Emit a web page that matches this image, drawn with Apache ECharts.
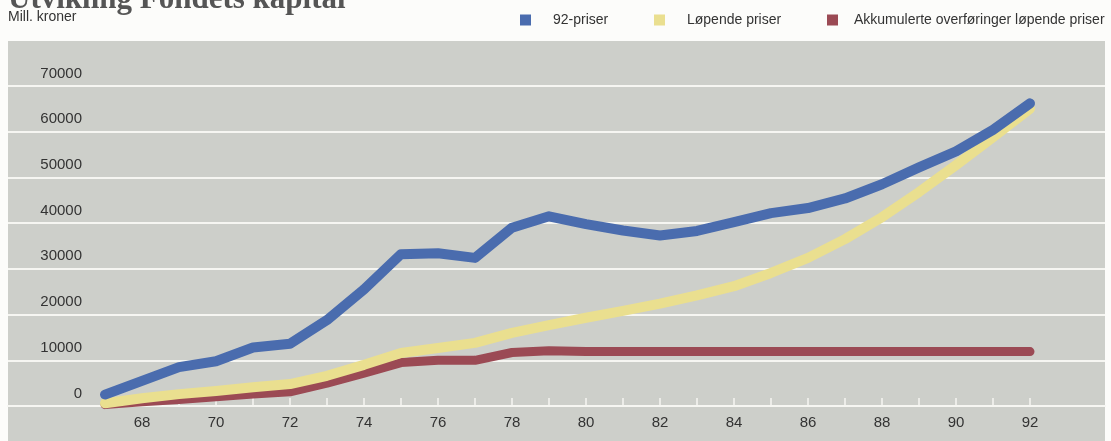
<!DOCTYPE html>
<html>
<head>
<meta charset="utf-8">
<script src="https://cdn.jsdelivr.net/npm/echarts@6/dist/echarts.min.js"></script>
<style>
  html, body { margin: 0; padding: 0; background: #fcfcfa; }
  #chart { width: 1111px; height: 441px; }
</style>
</head>
<body>
<div id="chart"></div>
<script>
// Fondets kapital 1967–1992, mill. kroner
const years = [67, 68, 69, 70, 71, 72, 73, 74, 75, 76, 77, 78, 79, 80, 81, 82, 83, 84, 85, 86, 87, 88, 89, 90, 91, 92];
const priser92 = [2500, 5500, 8500, 9800, 12800, 13600, 18800, 25500, 33200, 33400, 32400, 39000, 41500, 39800, 38400, 37300, 38300, 40200, 42200, 43300, 45400, 48500, 52200, 55700, 60400, 66200];
const lopendePriser = [600, 1700, 2600, 3300, 4100, 4800, 6600, 9000, 11600, 12700, 13800, 16000, 17700, 19300, 20800, 22400, 24200, 26200, 29100, 32400, 36500, 41300, 46800, 52700, 58800, 65000];
const overforinger = [300, 900, 1400, 2000, 2600, 3100, 5000, 7200, 9500, 10000, 10000, 11700, 12100, 11900, 11900, 11900, 11900, 11900, 11900, 11900, 11900, 11900, 11900, 11900, 11900, 11900];
const xLabelYears = [68, 70, 72, 74, 76, 78, 80, 82, 84, 86, 88, 90, 92];
const yMax = 70000;
const yStep = 10000;

const seriesNames = ['92-priser', 'Løpende priser', 'Akkumulerte overføringer løpende priser'];
const colors = { blue: '#4a6cae', yellow: '#eadf8f', red: '#9b4a54' };

const pairs = (vals) => years.map((y, i) => [y, vals[i]]);
const font = '"Liberation Sans", Arial, sans-serif';

const chart = echarts.init(document.getElementById('chart'), null, { renderer: 'canvas' });

function legendFor(name, left, textGap) {
  return {
    left: left,
    top: 13,
    padding: 0,
    data: [name],
    icon: 'rect',
    itemWidth: 11,
    itemHeight: 11,
    selectedMode: false,
    textStyle: { fontFamily: font, fontSize: 14, color: '#333', padding: [0, 0, 0, textGap] }
  };
}

chart.setOption({
  animation: false,
  backgroundColor: '#fcfcfa',
  graphic: [
    { type: 'rect', z: -100, shape: { x: 8, y: 41, width: 1097, height: 400 }, style: { fill: '#cdcfca' } },
    { type: 'text', left: 8, top: -16, style: { text: 'Utvikling Fondets kapital', font: 'bold 31px "Liberation Serif", "Times New Roman", serif', fill: '#555' } },
    { type: 'text', left: 8, top: 10, style: { text: 'Mill. kroner', font: '14px ' + font, fill: '#333' } }
  ],
  legend: [
    legendFor(seriesNames[0], 520, 17),
    legendFor(seriesNames[1], 654, 17),
    legendFor(seriesNames[2], 827, 11)
  ],
  grid: { left: 8, right: 6, top: 86, bottom: 35, containLabel: false },
  xAxis: {
    type: 'value',
    min: 64.378,
    max: 94.027,
    splitLine: { show: false },
    axisLine: { show: true, onZero: false, lineStyle: { color: '#f6f6f2', width: 2 } },
    axisTick: { show: true, inside: true, length: 8, customValues: years, lineStyle: { color: '#f6f6f2', width: 1.5 } },
    axisLabel: { customValues: xLabelYears, margin: 9, fontFamily: font, fontSize: 15, color: '#333' }
  },
  yAxis: {
    type: 'value',
    min: 0,
    max: yMax,
    interval: yStep,
    axisLine: { show: false },
    axisTick: { show: false },
    splitLine: { show: true, lineStyle: { color: '#f6f6f2', width: 2 } },
    axisLabel: {
      inside: true,
      align: 'right',
      margin: 74,
      verticalAlign: 'bottom',
      lineHeight: 15,
      padding: [0, 0, 5, 0],
      fontFamily: font,
      fontSize: 15,
      color: '#333',
      formatter: (v) => String(v)
    }
  },
  series: [
    {
      name: seriesNames[2], type: 'line', data: pairs(overforinger), showSymbol: false, symbol: 'none',
      color: colors.red, lineStyle: { width: 9, color: colors.red, cap: 'round', join: 'round' }
    },
    {
      name: seriesNames[1], type: 'line', data: pairs(lopendePriser), showSymbol: false, symbol: 'none',
      color: colors.yellow, lineStyle: { width: 10, color: colors.yellow, cap: 'round', join: 'round' }
    },
    {
      name: seriesNames[0], type: 'line', data: pairs(priser92), showSymbol: false, symbol: 'none',
      color: colors.blue, lineStyle: { width: 10, color: colors.blue, cap: 'round', join: 'round' }
    }
  ]
});
</script>
</body>
</html>
